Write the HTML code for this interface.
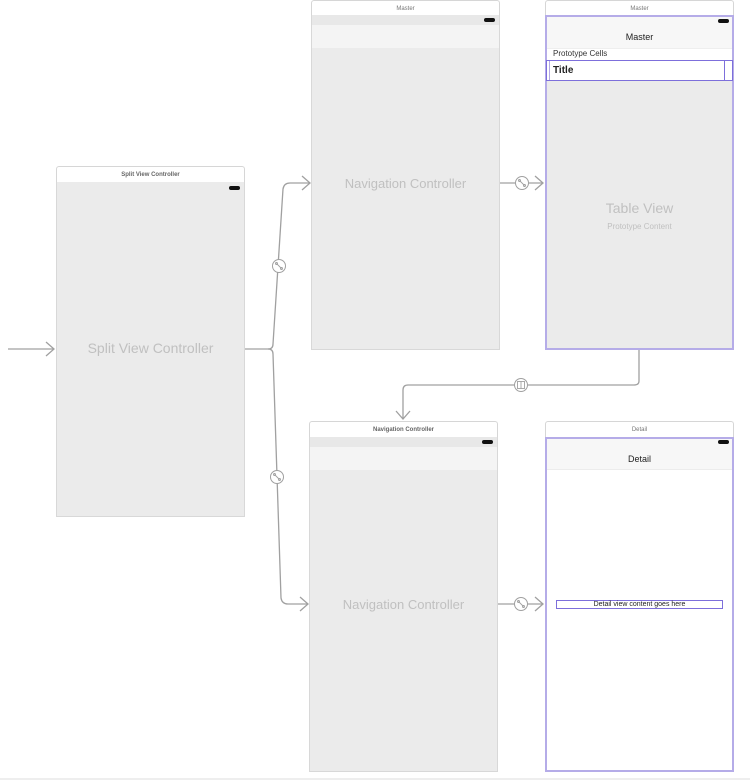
<!DOCTYPE html>
<html><head><meta charset="utf-8"><style>
*{margin:0;padding:0;box-sizing:border-box}
body{width:750px;height:780px;background:#fff;position:relative;overflow:hidden;font-family:"Liberation Sans",sans-serif}
.a{position:absolute}
.tb{position:absolute;background:#fff;border:1px solid #d6d6d6;border-bottom:1px solid #dcdcdc;border-radius:3px 3px 0 0;font-size:6px;font-weight:bold;color:#666;text-align:center;line-height:15px}
.bd{position:absolute;background:#ebebeb;border:1px solid #d8d8d8;border-top:none}
.bat{position:absolute;width:11px;height:4px;background:#111;border-radius:2px}
.big{position:absolute;color:#c0c0c0;text-align:center;white-space:nowrap}
</style></head><body>

<!-- Split view controller -->
<div class="tb" style="left:56px;top:166px;width:189px;height:17px;line-height:17px">Split View Controller</div>
<div class="bd" style="left:56px;top:182px;width:189px;height:335px"></div>
<div class="bat" style="left:229px;top:186px"></div>
<div class="big" style="left:56px;top:340px;width:189px;font-size:14px;">Split View Controller</div>

<!-- Master nav controller -->
<div class="tb" style="left:311px;top:0px;width:189px;height:16px;font-weight:normal;color:#777;line-height:16px">Master</div>
<div class="bd" style="left:311px;top:15px;width:189px;height:335px"></div>
<div class="a" style="left:312px;top:15px;width:187px;height:10px;background:#e8e8e8"></div>
<div class="a" style="left:312px;top:25px;width:187px;height:23px;background:#f4f4f4"></div>
<div class="bat" style="left:484px;top:18px"></div>
<div class="big" style="left:311px;top:176px;width:189px;font-size:13px;">Navigation Controller</div>

<!-- Master table -->
<div class="tb" style="left:545px;top:0px;width:189px;height:16px;font-weight:normal;color:#777;line-height:16px">Master</div>
<div class="a" style="left:545px;top:15px;width:189px;height:335px;background:#ebebeb;border:2px solid #b5ace8"></div>
<div class="a" style="left:547px;top:17px;width:185px;height:31px;background:#f7f7f7"></div>
<div class="bat" style="left:718px;top:19px"></div>
<div class="a" style="left:547px;top:32px;width:185px;text-align:center;font-size:9px;color:#222">Master</div>
<div class="a" style="left:547px;top:48px;width:185px;height:12px;background:#fff;border-top:1px solid #eee"></div>
<div class="a" style="left:553px;top:49px;font-size:8px;color:#333">Prototype Cells</div>
<div class="a" style="left:546px;top:60px;width:187px;height:21px;background:#fff;border:1px solid #7d6fdb"></div>
<div class="a" style="left:549px;top:61px;width:1px;height:19px;background:#b1a8e6"></div>
<div class="a" style="left:724px;top:61px;width:1px;height:19px;background:#7d6fdb"></div>
<div class="a" style="left:553px;top:65px;font-size:10px;font-weight:bold;color:#222">Title</div>
<div class="big" style="left:545px;top:200px;width:189px;font-size:14px;">Table View</div>
<div class="big" style="left:545px;top:222px;width:189px;font-size:8px;">Prototype Content</div>

<!-- Bottom nav controller -->
<div class="tb" style="left:309px;top:421px;width:189px;height:17px;line-height:17px">Navigation Controller</div>
<div class="bd" style="left:309px;top:437px;width:189px;height:335px"></div>
<div class="a" style="left:310px;top:437px;width:187px;height:10px;background:#e8e8e8"></div>
<div class="a" style="left:310px;top:447px;width:187px;height:23px;background:#f4f4f4"></div>
<div class="bat" style="left:482px;top:440px"></div>
<div class="big" style="left:309px;top:597px;width:189px;font-size:13px;">Navigation Controller</div>

<!-- Detail -->
<div class="tb" style="left:545px;top:421px;width:189px;height:17px;font-weight:normal;color:#777;line-height:17px">Detail</div>
<div class="a" style="left:545px;top:437px;width:189px;height:335px;background:#fff;border:2px solid #b5ace8"></div>
<div class="a" style="left:547px;top:439px;width:185px;height:31px;background:#f7f7f7;border-bottom:1px solid #ececec"></div>
<div class="bat" style="left:718px;top:440px"></div>
<div class="a" style="left:547px;top:454px;width:185px;text-align:center;font-size:9px;color:#222">Detail</div>
<div class="a" style="left:556px;top:600px;width:167px;height:9px;border:1px solid #7d6fdb;font-size:7px;line-height:7px;text-align:center;color:#222">Detail view content goes here</div>

<!-- bottom line -->
<div class="a" style="left:0;top:778px;width:750px;height:2px;background:#eee"></div>

<svg class="a" style="left:0;top:0" width="750" height="780" viewBox="0 0 750 780">
<g fill="none" stroke="#a0a0a0" stroke-width="1.3">
  <path d="M8 349 H54"/>
  <path d="M46 342 L54 349 L46 356"/>
  <path d="M245 349 H268 Q273 349 273 344 L283 189 Q284 183 290 183 H310"/>
  <path d="M302 176 L310 183 L302 190"/>
  <path d="M268 349 Q273 349 273 354 L281 598 Q282 604 288 604 H308"/>
  <path d="M300 597 L308 604 L300 611"/>
  <path d="M500 183 H543"/>
  <path d="M535 176 L543 183 L535 190"/>
  <path d="M639 350 V381 Q639 385 634 385 H408 Q403 385 403 390 V419"/>
  <path d="M396 411 L403 419 L410 411"/>
  <path d="M498 604 H543"/>
  <path d="M535 597 L543 604 L535 611"/>
</g>
<g fill="#fff" stroke="#a0a0a0" stroke-width="1">
  <circle cx="279" cy="266" r="6.5"/>
  <circle cx="277" cy="477" r="6.5"/>
  <circle cx="522" cy="183" r="6.5"/>
  <circle cx="521" cy="385" r="6.5"/>
  <circle cx="521" cy="604" r="6.5"/>
</g>
<g fill="none" stroke="#a0a0a0" stroke-width="0.9">
  <path d="M276.5 263.5 L281.5 268.5"/><circle cx="276.5" cy="263.5" r="1"/><circle cx="281.5" cy="268.5" r="1"/>
  <path d="M274.5 474.5 L279.5 479.5"/><circle cx="274.5" cy="474.5" r="1"/><circle cx="279.5" cy="479.5" r="1"/>
  <path d="M519.5 180.5 L524.5 185.5"/><circle cx="519.5" cy="180.5" r="1"/><circle cx="524.5" cy="185.5" r="1"/>
  <path d="M518.5 601.5 L523.5 606.5"/><circle cx="518.5" cy="601.5" r="1"/><circle cx="523.5" cy="606.5" r="1"/>
  <rect x="517.5" y="381.5" width="7" height="7"/><path d="M521 381.5 V388.5"/>
</g>
</svg>
</body></html>
